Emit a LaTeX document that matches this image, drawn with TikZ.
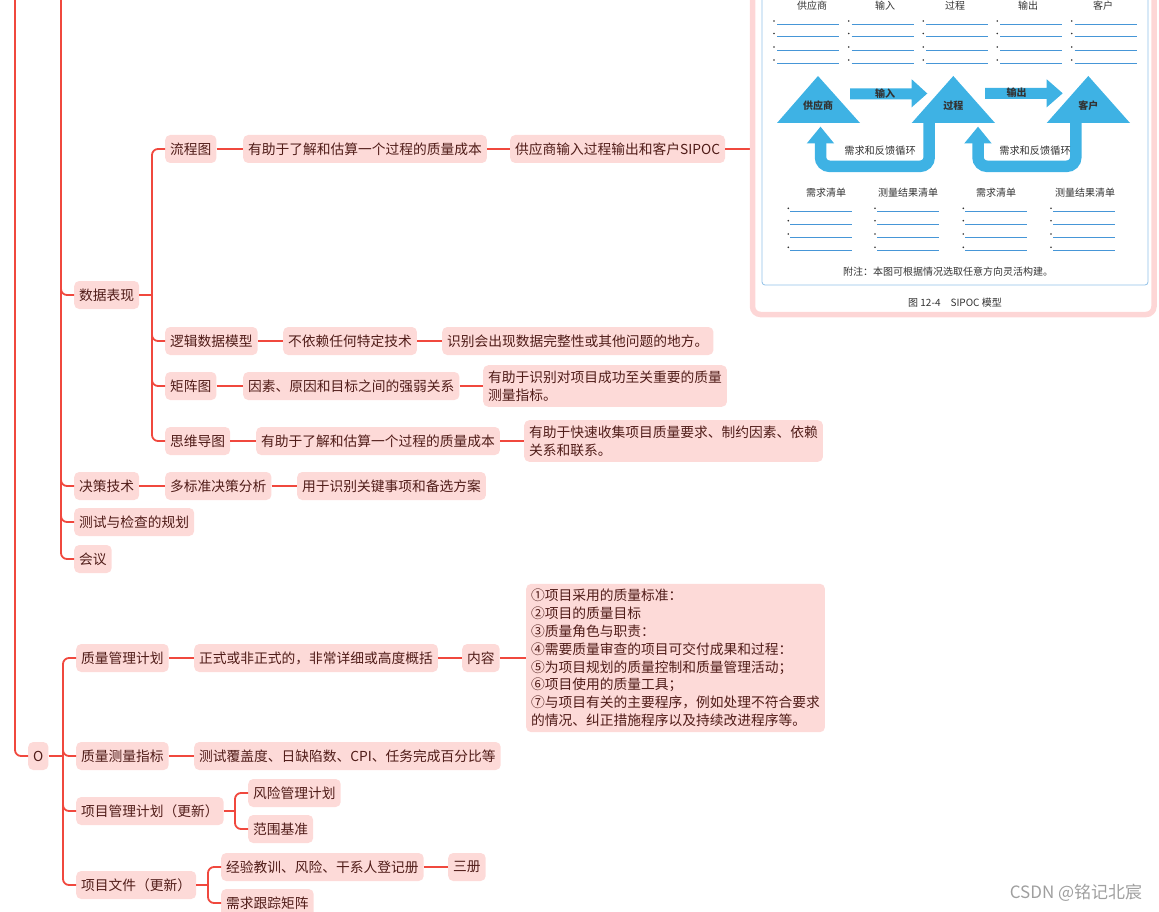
\documentclass[tikz,border=0pt]{standalone}
\usepackage{fontspec}
\setmainfont{Noto Sans CJK SC}
\definecolor{linered}{RGB}{240,72,62}
\definecolor{boxpink}{RGB}{253,218,216}
\definecolor{txtbrown}{RGB}{80,28,24}
\definecolor{sipocblue}{RGB}{62,178,228}
\definecolor{rowblue}{RGB}{70,150,215}
\definecolor{framepink}{RGB}{253,214,214}
\tikzset{
  topic/.style={fill=boxpink, rounded corners=5pt, text=txtbrown, anchor=west,
    font=\fontsize{13.75}{17.8}\selectfont, inner xsep=5pt, inner ysep=0pt, minimum height=28pt},
  multi/.style={topic, align=left, inner ysep=5.5pt},
  branch/.style={draw=linered, line width=1.8pt, rounded corners=6pt},
  figtext/.style={font=\fontsize{10}{12}\selectfont, text=black!80, inner sep=0pt},
  rowline/.style={draw=rowblue, line width=0.6pt},
}
\begin{document}
\begin{tikzpicture}[x=1pt,y=-1pt]

% Picture size
\useasboundingbox (0,0) rectangle (1159,912);
\clip (0,0) rectangle (1159,912);

% Trunks coming from above
\coordinate (topA) at (15,-10);
\coordinate (topB) at (61,-10);

% Second level
\node[topic] (shuju) at (74,295) {数据表现};
\node[topic] (juece) at (74,486) {决策技术};
\node[topic] (ceshi) at (74,522) {测试与检查的规划};
\node[topic] (huiyi) at (74,559) {会议};
\foreach \n in {shuju,juece,ceshi,huiyi}
  \draw[branch] (topB) |- (\n.west);

% Data representation
\coordinate (fkShuju) at (152,295);
\node[topic] (liucheng) at (165,149) {流程图};
\node[topic] (luoji) at (165,341) {逻辑数据模型};
\node[topic] (juzhen) at (165,386) {矩阵图};
\node[topic] (siwei) at (165,441) {思维导图};
\draw[branch] (shuju.east) -- (fkShuju);
\foreach \n in {liucheng,luoji,juzhen,siwei}
  \draw[branch] (fkShuju) |- (\n.west);

% Flow chart
\node[topic] (chengbenA) at (243,149) {有助于了解和估算一个过程的质量成本};
\node[topic] (sipoc) at (510,149) {供应商输入过程输出和客户SIPOC};
\coordinate (figL) at (750,149);
\draw[branch] (liucheng.east) -- (chengbenA.west);
\draw[branch] (chengbenA.east) -- (sipoc.west);
\draw[branch] (sipoc.east) -- (figL);

% Logical data model
\node[topic] (jishu) at (283,341) {不依赖任何特定技术};
\node[topic] (wenti) at (442,341) {识别会出现数据完整性或其他问题的地方。};
\draw[branch] (luoji.east) -- (jishu.west);
\draw[branch] (jishu.east) -- (wenti.west);

% Matrix diagram
\node[topic] (yinsu) at (243,386) {因素、原因和目标之间的强弱关系};
\node[multi] (zhibiao) at (483,386) {有助于识别对项目成功至关重要的质量\\测量指标。};
\draw[branch] (juzhen.east) -- (yinsu.west);
\draw[branch] (yinsu.east) -- (zhibiao.west);

% Mind map
\node[topic] (chengbenB) at (256,441) {有助于了解和估算一个过程的质量成本};
\node[multi] (shouji) at (524,441) {有助于快速收集项目质量要求、制约因素、依赖\\关系和联系。};
\draw[branch] (siwei.east) -- (chengbenB.west);
\draw[branch] (chengbenB.east) -- (shouji.west);

% Decision making
\node[topic] (duobiao) at (165,486) {多标准决策分析};
\node[topic] (beixuan) at (297,486) {用于识别关键事项和备选方案};
\draw[branch] (juece.east) -- (duobiao.west);
\draw[branch] (duobiao.east) -- (beixuan.west);

% Outputs
\node[topic] (o) at (28,756) {O};
\draw[branch] (topA) |- (o.west);
\coordinate (fkO) at (63,756);
\draw[branch] (o.east) -- (fkO);
\node[topic] (zljh) at (76,658) {质量管理计划};
\node[topic] (zlcl) at (76,756) {质量测量指标};
\node[topic] (xmjh) at (76,811) {项目管理计划（更新）};
\node[topic] (xmwj) at (76,885) {项目文件（更新）};
\foreach \n in {zljh,zlcl,xmjh,xmwj}
  \draw[branch] (fkO) |- (\n.west);

% Quality management plan
\node[topic] (zhengshi) at (194,658) {正式或非正式的，非常详细或高度概括};
\node[topic] (neirong) at (462,658) {内容};
\node[multi] (tiaomu) at (526,658) {①项目采用的质量标准：\\②项目的质量目标\\③质量角色与职责：\\④需要质量审查的项目可交付成果和过程：\\⑤为项目规划的质量控制和质量管理活动；\\⑥项目使用的质量工具；\\⑦与项目有关的主要程序，例如处理不符合要求\\的情况、纠正措施程序以及持续改进程序等。};
\draw[branch] (zljh.east) -- (zhengshi.west);
\draw[branch] (zhengshi.east) -- (neirong.west);
\draw[branch] (neirong.east) -- (tiaomu.west);

% Quality metrics
\node[topic] (fugai) at (194,756) {测试覆盖度、日缺陷数、CPI、任务完成百分比等};
\draw[branch] (zlcl.east) -- (fugai.west);

% Project management plan updates
\coordinate (fkJh) at (235,811);
\node[topic] (fengxian) at (248,793) {风险管理计划};
\node[topic] (fanwei) at (248,829) {范围基准};
\draw[branch] (xmjh.east) -- (fkJh);
\foreach \n in {fengxian,fanwei}
  \draw[branch] (fkJh) |- (\n.west);

% Project documents updates
\coordinate (fkWj) at (208,885);
\node[topic] (jingyan) at (221,867) {经验教训、风险、干系人登记册};
\node[topic] (sance) at (448,867) {三册};
\node[topic] (genzong) at (221,903) {需求跟踪矩阵};
\draw[branch] (xmwj.east) -- (fkWj);
\foreach \n in {jingyan,genzong}
  \draw[branch] (fkWj) |- (\n.west);
\draw[branch] (jingyan.east) -- (sance.west);

% SIPOC figure frame
\draw[framepink, line width=5.5pt, rounded corners=8pt] (752.5,-20) rectangle (1154,314.5);
\draw[rowblue!60, line width=0.8pt, rounded corners=3pt] (762,-20) rectangle (1148,285);

% Column heads and bullet rows
\foreach \x/\t in {812/供应商,885/输入,955/过程,1028/输出,1103/客户}
  \node[figtext] (hd\x) at (\x,6) {\t};
\foreach \x in {774,848.7,923.3,997.3,1071.7}
  \foreach \y in {21,33.5,47,60} {
    \fill[black!80] (\x,\y) circle (0.9);
    \draw[rowline] (\x+3,\y+3) -- (\x+65,\y+3);
  }

% Triangles
\fill[sipocblue] (818,76) -- (860,123) -- (777,123) -- cycle;
\fill[sipocblue] (953.3,76) -- (995,123) -- (911.7,123) -- cycle;
\fill[sipocblue] (1088.3,76) -- (1130,123) -- (1046.7,123) -- cycle;
\node[figtext, font=\fontsize{10}{12}\selectfont\bfseries] (tS) at (818,106) {供应商};
\node[figtext, font=\fontsize{10}{12}\selectfont\bfseries] (tP) at (953.3,106) {过程};
\node[figtext, font=\fontsize{10}{12}\selectfont\bfseries] (tC) at (1088.3,106) {客户};

% Input and output arrows
\fill[sipocblue] (850,88.3) -- (911.7,88.3) -- (911.7,79.3) -- (927.3,93.5) -- (911.7,107.3) -- (911.7,99.3) -- (850,99.3) -- cycle;
\fill[sipocblue] (985,88) -- (1046.7,88) -- (1046.7,79.3) -- (1062.7,93.3) -- (1046.7,107.3) -- (1046.7,99) -- (985,99) -- cycle;
\node[figtext, font=\fontsize{10}{12}\selectfont\bfseries] (aIn) at (885,93.5) {输入};
\node[figtext, font=\fontsize{10}{12}\selectfont\bfseries] (aOut) at (1016.7,93) {输出};

% Feedback loops
\draw[sipocblue, line width=11.5pt, rounded corners=9pt] (929.2,118) -- (929.2,166.3) -- (820.5,166.3) -- (820.5,143);
\fill[sipocblue] (806.7,143.5) -- (820.5,126.7) -- (834.2,143.5) -- cycle;
\draw[sipocblue, line width=11.5pt, rounded corners=9pt] (1075.8,118) -- (1075.8,166.3) -- (978,166.3) -- (978,143);
\fill[sipocblue] (964.2,143.5) -- (978,126.7) -- (991.7,143.5) -- cycle;
\node[figtext, font=\fontsize{10.2}{12}\selectfont] (fb1) at (880,151) {需求和反馈循环};
\node[figtext, font=\fontsize{10.2}{12}\selectfont] (fb2) at (1035,151) {需求和反馈循环};

% Lower lists
\foreach \x/\t in {826/需求清单,908/测量结果清单,996/需求清单,1085/测量结果清单}
  \node[figtext] (ls\x) at (\x,193) {\t};
\foreach \x in {788.3,875,963.3,1051}
  \foreach \y in {208.3,220.7,234,247.3} {
    \fill[black!80] (\x,\y) circle (0.9);
    \draw[rowline] (\x+2,\y+3.3) -- (\x+64,\y+3.3);
  }

% Note and caption
\node[figtext] (note) at (948,272) {附注：本图可根据情况选取任意方向灵活构建。};
\node[figtext] (caption) at (955,303) {图 12-4\quad SIPOC 模型};

% Watermark
\node[text=gray!75, font=\fontsize{17}{19}\selectfont, inner sep=0pt] (mark) at (1076,893) {CSDN @铭记北宸};

\end{tikzpicture}
\end{document}
